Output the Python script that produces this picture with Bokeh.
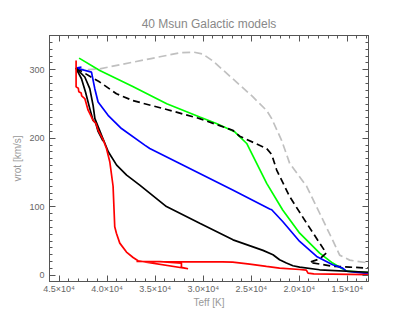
from bokeh.plotting import figure
from bokeh.models import Range1d, FixedTicker, LinearAxis
from bokeh.embed import file_html
from bokeh.resources import INLINE

# ---- data (Teff [K], vrot [km/s]) ----
x_ticks = [45000, 40000, 35000, 30000, 25000, 20000, 15000]
x_tick_labels = ["4.5×10⁴", "4.0×10⁴", "3.5×10⁴", "3.0×10⁴", "2.5×10⁴", "2.0×10⁴", "1.5×10⁴"]
y_ticks = [0, 100, 200, 300]
y_tick_labels = ["0", "100", "200", "300"]

gray_T = [43250, 42320, 40766, 35565, 32444, 30988, 30052, 29012, 26932, 24851, 23395, 22875,
          21835, 21003, 19234, 17882, 16530, 15802, 14762, 12800]
gray_v = [302, 300, 301.4, 316, 324.7, 325.7, 323, 313, 287, 260.7, 240.4, 228.7,
          196.7, 163.3, 129.9, 90.6, 51.3, 29.5, 22.2, 18]

green_T = [42920, 40766, 37334, 33797, 30364, 28627, 26724, 25476, 24436, 23395, 21731,
           19963, 17882, 16530, 15490, 15100, 12800]
green_v = [317, 299, 275.7, 250.5, 231, 221.5, 209.4, 192.4, 163.3, 134.2, 95.4,
           61.5, 32.4, 17.9, 9.2, 6, 4]

bdash_T = [43250, 40766, 39030, 37334, 33797, 30364, 26932, 26200, 23395, 22875, 22355,
           21003, 19234, 17882, 17196, 17882, 18922, 16494, 14762, 12800]
bdash_v = [302.5, 282, 265, 255, 242, 228.7, 211.7, 203, 185, 176.4, 153.6,
           114.9, 76, 47, 32.4, 24, 19, 13.1, 12, 10.6]

blue_T = [42670, 43250, 41630, 41286, 40943, 39903, 38509, 36087, 35565, 32444, 26932,
          23083, 22875, 21731, 19963, 18194, 16530, 15490, 15100, 12800]
blue_v = [304, 302.5, 296.6, 272.4, 253, 233.5, 214.2, 190, 185, 163.3, 124.5,
          96.9, 95.7, 78.5, 49.4, 27.6, 15.4, 10.6, 6, 2.3]

black_T = [43250, 42327, 41807, 41463, 41275, 40579, 39882, 39012, 37972, 36606, 33828,
           30364, 26900, 23780, 22740, 22054, 21345, 20667, 19963, 17893, 12800]
black_v = [302.5, 289.4, 272.4, 248, 228.7, 204.5, 180.3, 160.8, 146.3, 131.7, 100.3,
           76, 51.8, 36.4, 30, 22.7, 17.9, 14, 12.1, 8.1, 4.5]

black2_T = [43250, 42670, 42254, 41807, 41463, 41181, 40943, 40423]
black2_v = [302.5, 286.9, 267.5, 243.3, 226, 222, 210, 196]

red_T = [43232, 43232, 43000, 42950, 42700, 42650, 42327, 42200, 41983, 41800, 41463,
         41181, 40943, 40423, 40070, 39726, 39383, 39210, 39036, 38686, 37990, 37300,
         36782, 31581, 32268, 32268, 34500, 36950, 34000, 28000, 26932, 25163, 23426,
         22054, 19963, 19269, 19096, 18500, 12800]
red_v = [313.5, 275, 273, 268, 266, 262, 258, 252, 241, 236, 226.3,
         222, 212, 198, 185, 165.8, 130, 71, 61.5, 47, 34, 26,
         21.2, 9.6, 11.6, 17.9, 19.9, 20.4, 19.8, 19.6, 19.3, 16.4, 13,
         10.5, 8.5, 7.5, 3.3, 2, 1]

# ---- figure ----
AX = "#555555"
p = figure(frame_width=319, frame_height=246, x_range=Range1d(46000, 12800), y_range=Range1d(-9, 350),
           output_backend="svg", toolbar_location=None,
           min_border_left=42, min_border_right=10, min_border_top=24, min_border_bottom=10)
p.margin = (9, 0, 0, 7)
p.background_fill_color = "white"
p.border_fill_color = "white"
p.outline_line_color = AX
p.xgrid.visible = False
p.ygrid.visible = False

p.title.text = "40 Msun Galactic models"
p.title.align = "center"
p.title.text_font = "Liberation Sans"
p.title.text_font_size = "12px"
p.title.text_font_style = "normal"
p.title.text_color = "#888888"

xt = FixedTicker(ticks=x_ticks, minor_ticks=list(range(13000, 46001, 1000)))
yt = FixedTicker(ticks=y_ticks, minor_ticks=list(range(0, 351, 10)))
xover = {float(t): l for t, l in zip(x_ticks, x_tick_labels)}
yover = {float(t): l for t, l in zip(y_ticks, y_tick_labels)}


def style(ax, ticker, over):
    ax.ticker = ticker
    ax.major_label_overrides = over
    ax.major_tick_in = 6
    ax.major_tick_out = 0
    ax.minor_tick_in = 3
    ax.minor_tick_out = 0
    ax.axis_line_color = AX
    ax.major_tick_line_color = AX
    ax.minor_tick_line_color = AX
    ax.major_label_text_font = "Liberation Sans"
    ax.major_label_text_font_size = "9px"
    ax.major_label_text_color = "#666666"
    ax.axis_label_text_font = "Liberation Sans"
    ax.axis_label_text_font_size = "10px"
    ax.axis_label_text_font_style = "normal"
    ax.axis_label_text_color = "#999999"


style(p.xaxis[0], xt, xover)
style(p.yaxis[0], yt, yover)
p.xaxis[0].axis_label = "Teff [K]"
p.yaxis[0].axis_label = "vrot [km/s]"
p.xaxis[0].major_label_standoff = 2
p.yaxis[0].major_label_standoff = 5
p.xaxis[0].axis_label_standoff = 0
p.yaxis[0].axis_label_standoff = 3

top = LinearAxis()
right = LinearAxis()
style(top, xt, {})
style(right, yt, {})
for a in (top, right):
    a.major_label_text_color = None
    a.major_label_text_font_size = "1px"
    a.major_label_standoff = 0
p.add_layout(top, "above")
p.add_layout(right, "right")

lw = 1.7
p.line(gray_T, gray_v, line_color="#c0c0c0", line_width=lw, line_dash="8 4")
p.line(green_T, green_v, line_color="#00ff00", line_width=lw)
p.line(bdash_T, bdash_v, line_color="black", line_width=lw, line_dash="7 4")
p.line(blue_T, blue_v, line_color="#0000ff", line_width=lw)
p.line(black2_T, black2_v, line_color="black", line_width=lw)
p.line(black_T, black_v, line_color="black", line_width=lw)
p.line(red_T, red_v, line_color="#ff0000", line_width=lw)

open("out.html", "w").write(file_html(p, INLINE))
